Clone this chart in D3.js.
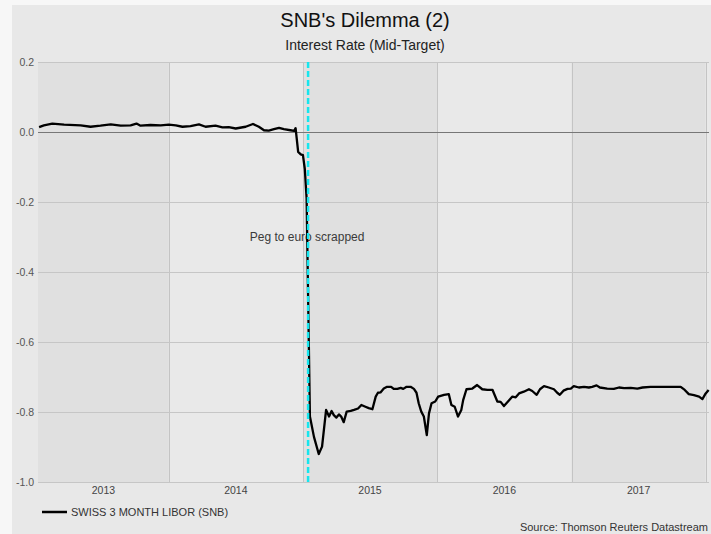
<!DOCTYPE html>
<html>
<head>
<meta charset="utf-8">
<script src="https://cdn.jsdelivr.net/npm/d3@7"></script>
<style>
  html, body { margin: 0; padding: 0; background: #f7f7f7; }
  svg { display: block; font-family: "Liberation Sans", Arial, sans-serif; }
</style>
</head>
<body>
<svg id="chart" width="711" height="534"></svg>
<script>
// Swiss franc 3-month LIBOR, observation dates and rates (%)
const dates = [
  "2013-01-13","2013-01-26","2013-02-18","2013-03-22","2013-05-06","2013-06-02","2013-06-29",
  "2013-07-27","2013-08-23","2013-09-19","2013-10-05","2013-10-16","2013-11-12","2013-12-10",
  "2014-01-01","2014-01-20","2014-02-07","2014-03-01","2014-03-24","2014-04-11","2014-05-08",
  "2014-05-27","2014-06-13","2014-07-02","2014-07-29","2014-08-18","2014-09-03","2014-09-17",
  "2014-09-30","2014-10-14","2014-10-28","2014-11-10","2014-11-28","2014-12-08","2014-12-12",
  "2014-12-19","2014-12-26","2015-01-01","2015-01-06","2015-01-11","2015-01-20","2015-01-31",
  "2015-02-13","2015-02-22","2015-03-05","2015-03-13","2015-03-20","2015-03-26","2015-04-02",
  "2015-04-09","2015-04-15","2015-04-22","2015-04-30","2015-05-11","2015-05-20","2015-05-31",
  "2015-06-09","2015-06-20","2015-06-29","2015-07-09","2015-07-18","2015-07-24","2015-07-31",
  "2015-08-09","2015-08-18","2015-08-29","2015-09-05","2015-09-15","2015-09-24","2015-10-01",
  "2015-10-10","2015-10-21","2015-10-30","2015-11-06","2015-11-12","2015-11-19","2015-11-26",
  "2015-12-04","2015-12-10","2015-12-17","2015-12-27","2016-01-04","2016-01-20","2016-02-02",
  "2016-02-09","2016-02-18","2016-02-27","2016-03-07","2016-03-12","2016-03-21","2016-04-06",
  "2016-04-19","2016-05-03","2016-05-17","2016-05-31","2016-06-13","2016-06-22","2016-07-01",
  "2016-07-12","2016-07-24","2016-08-02","2016-08-11","2016-08-24","2016-09-07","2016-09-16",
  "2016-09-28","2016-10-07","2016-10-18","2016-10-31","2016-11-14","2016-11-23","2016-11-30",
  "2016-12-10","2016-12-21","2016-12-30","2017-01-07","2017-01-21","2017-02-04","2017-02-17",
  "2017-02-26","2017-03-10","2017-03-19","2017-04-08","2017-04-26","2017-05-10","2017-05-24",
  "2017-06-11","2017-06-29","2017-07-13","2017-08-04","2017-08-22","2017-09-09","2017-10-07",
  "2017-10-25","2017-11-05","2017-11-16","2017-11-30","2017-12-14","2017-12-23","2018-01-01",
  "2018-01-09"
];
const libor = [
  0.014, 0.019, 0.024, 0.021, 0.019, 0.015, 0.018,
  0.022, 0.018, 0.019, 0.024, 0.018, 0.020, 0.019,
  0.021, 0.019, 0.015, 0.017, 0.022, 0.015, 0.018,
  0.013, 0.014, 0.010, 0.015, 0.023, 0.015, 0.005,
  0.004, 0.008, 0.012, 0.008, 0.005, 0.003, 0.011,
  -0.057, -0.064, -0.066, -0.105, -0.190, -0.813, -0.871,
  -0.920, -0.899, -0.794, -0.813, -0.797, -0.809, -0.816,
  -0.807, -0.813, -0.829, -0.799, -0.797, -0.794, -0.790,
  -0.780, -0.785, -0.789, -0.792, -0.756, -0.745, -0.744,
  -0.733, -0.728, -0.728, -0.734, -0.734, -0.731, -0.734,
  -0.728, -0.728, -0.734, -0.745, -0.775, -0.799, -0.813,
  -0.866, -0.804, -0.775, -0.770, -0.756, -0.751, -0.749,
  -0.780, -0.785, -0.813, -0.794, -0.766, -0.735, -0.733,
  -0.723, -0.735, -0.737, -0.737, -0.770, -0.771, -0.783,
  -0.770, -0.756, -0.758, -0.747, -0.742, -0.735, -0.740,
  -0.751, -0.735, -0.726, -0.730, -0.735, -0.745, -0.751,
  -0.739, -0.734, -0.733, -0.726, -0.730, -0.728, -0.730,
  -0.728, -0.724, -0.730, -0.733, -0.734, -0.730, -0.732,
  -0.731, -0.733, -0.730, -0.728, -0.728, -0.728, -0.728,
  -0.728, -0.737, -0.749, -0.752, -0.756, -0.763, -0.747,
  -0.737
];

const yearLabels = ["2013", "2014", "2015", "2016", "2017"];
const yTicks = [0.2, 0.0, -0.2, -0.4, -0.6, -0.8, -1.0];
const pegDate = "2015-01-15";
const pegLabel = "Peg to euro scrapped";
const title = "SNB's Dilemma (2)";
const subtitle = "Interest Rate (Mid-Target)";
const seriesName = "SWISS 3 MONTH LIBOR (SNB)";
const sourceText = "Source: Thomson Reuters Datastream";

const parse = d3.utcParse("%Y-%m-%d");
const series = dates.map((d, i) => ({ date: parse(d), value: libor[i] }));

const svg = d3.select("#chart");
const W = 711, H = 534;
const plot = { left: 38, right: 709, top: 62, bottom: 482 };

// chart panel
svg.append("rect").attr("x", 12).attr("y", 5).attr("width", W - 12).attr("height", H - 5)
  .attr("fill", "#e8e8e8");

const x = d3.scaleUtc()
  .domain([parse("2013-01-10"), parse("2018-01-10")])
  .range([plot.left, plot.right]);
const y = d3.scaleLinear().domain([-1.0, 0.2]).range([plot.bottom, plot.top]);

// alternating year bands
const years = d3.utcYear.range(d3.utcYear.floor(x.domain()[0]), x.domain()[1]);
const bands = years.map((start, i) => {
  const end = d3.utcYear.offset(start, 1);
  const x0 = Math.max(x(start), plot.left);
  const x1 = Math.min(x(end), plot.right);
  return { start, x0, x1, dark: i % 2 === 0 };
});
svg.append("g").selectAll("rect").data(bands).join("rect")
  .attr("x", d => d.x0).attr("y", plot.top)
  .attr("width", d => d.x1 - d.x0).attr("height", plot.bottom - plot.top)
  .attr("fill", d => d.dark ? "#e0e0e0" : "#e9e9e9");

// vertical year boundaries
svg.append("g").selectAll("line").data(years.slice(1)).join("line")
  .attr("x1", d => Math.round(x(d)) + 0.5).attr("x2", d => Math.round(x(d)) + 0.5)
  .attr("y1", plot.top).attr("y2", plot.bottom)
  .attr("stroke", "#c4c4c4").attr("stroke-width", 1);

// horizontal gridlines
svg.append("g").selectAll("line").data(yTicks).join("line")
  .attr("x1", plot.left).attr("x2", plot.right)
  .attr("y1", d => Math.round(y(d)) + 0.5).attr("y2", d => Math.round(y(d)) + 0.5)
  .attr("stroke", d => d === 0 ? "#777777" : "#c6c6c6").attr("stroke-width", 1);

// y axis labels
const fmt = d3.formatLocale({ decimal: ".", thousands: ",", grouping: [3], currency: ["", ""], minus: "-" }).format(".1f");
const yAxis = svg.append("g").attr("transform", `translate(${plot.left},0)`)
  .call(d3.axisLeft(y).tickValues(yTicks).tickFormat(fmt).tickSize(0).tickPadding(4));
yAxis.select(".domain").remove();
yAxis.selectAll("text").attr("fill", "#555").style("font-size", "10.5px")
  .style("font-family", "'Liberation Sans', Arial, sans-serif");

// year labels centred in the visible part of each band
const labelled = bands.filter(b => yearLabels.includes(String(b.start.getUTCFullYear())));
svg.append("g").selectAll("text").data(labelled).join("text")
  .attr("x", d => (d.x0 + d.x1) / 2).attr("y", plot.bottom + 12)
  .attr("text-anchor", "middle").attr("fill", "#444").style("font-size", "10.5px")
  .text(d => String(d.start.getUTCFullYear()));

// annotation
svg.append("text").attr("x", x(parse(pegDate)) - 1).attr("y", y(-0.3) + 4)
  .attr("text-anchor", "middle").attr("fill", "#3a3a3a").style("font-size", "12px")
  .text(pegLabel);

// series line
const line = d3.line().x(d => x(d.date)).y(d => y(d.value));
svg.append("path").datum(series)
  .attr("d", line).attr("fill", "none").attr("stroke", "#000")
  .attr("stroke-width", 2.3).attr("stroke-linejoin", "round");

// event marker
svg.append("line")
  .attr("x1", x(parse(pegDate))).attr("x2", x(parse(pegDate)))
  .attr("y1", plot.top).attr("y2", plot.bottom)
  .attr("stroke", "#16e6ee").attr("stroke-width", 2.5).attr("stroke-dasharray", "6,3");

// titles
svg.append("text").attr("x", 365).attr("y", 27).attr("text-anchor", "middle")
  .attr("fill", "#111").style("font-size", "20px").text(title);
svg.append("text").attr("x", 365).attr("y", 50).attr("text-anchor", "middle")
  .attr("fill", "#222").style("font-size", "14px").text(subtitle);

// legend
svg.append("line").attr("x1", 42).attr("x2", 67).attr("y1", 512).attr("y2", 512)
  .attr("stroke", "#000").attr("stroke-width", 2.5);
svg.append("text").attr("x", 71).attr("y", 516).attr("fill", "#333")
  .style("font-size", "11px").text(seriesName);

// source
svg.append("text").attr("x", 708).attr("y", 531).attr("text-anchor", "end")
  .attr("fill", "#333").style("font-size", "11px").text(sourceText);
</script>
</body>
</html>
